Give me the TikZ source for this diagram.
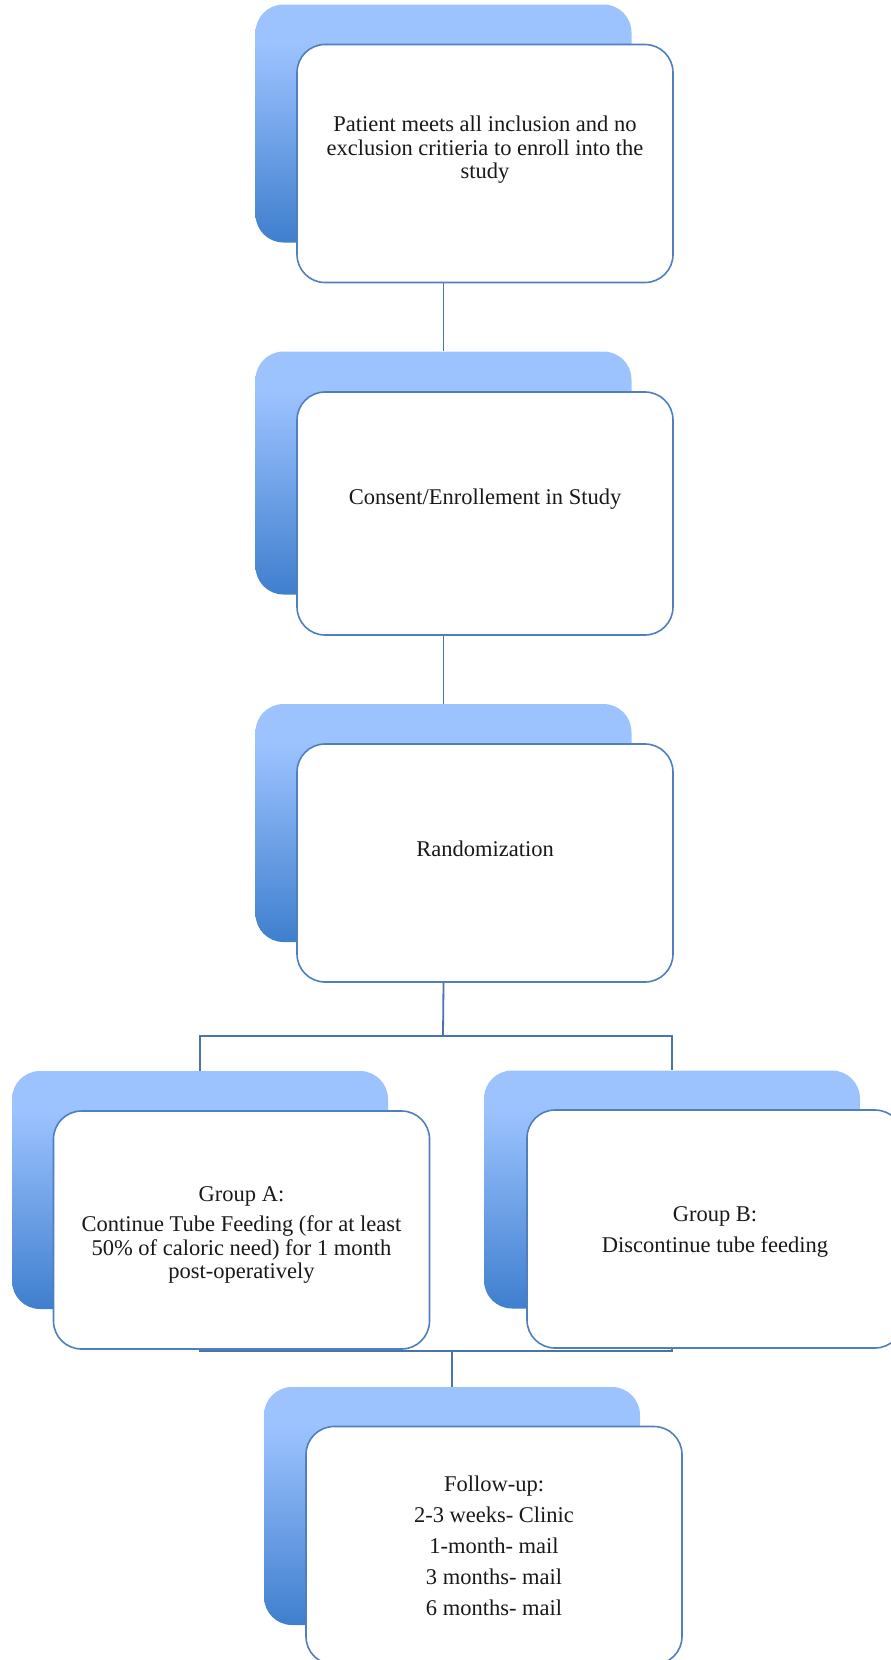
\documentclass[tikz,border=0pt]{standalone}
\usepackage{fontspec}
\setmainfont{Liberation Serif}
\usetikzlibrary{calc}
\definecolor{blight}{HTML}{9DC3FF}
\definecolor{bdark}{HTML}{3F7FCE}
\definecolor{bline}{HTML}{4F7FBF}
\definecolor{cline}{HTML}{4A74A8}
\pgfdeclareverticalshading{backsh}{100bp}{color(0bp)=(bdark); color(25bp)=(bdark); color(67bp)=(blight); color(100bp)=(blight)}
\pgfdeclarelayer{bg}
\pgfsetlayers{bg,main}
\begin{document}
\begin{tikzpicture}[x=1pt,y=-1pt,
  backbox/.style={rectangle, rounded corners=28pt, minimum width=376pt, minimum height=238pt, inner sep=0pt, shading=backsh},
  frontbox/.style={rectangle, rounded corners=28pt, draw=bline, line width=1.6pt, fill=white, minimum width=376pt, minimum height=238pt, inner sep=0pt},
  txt/.style={align=center, inner sep=0pt, font=\fontsize{22.5}{23.5}\selectfont, text=black!90},
  conn/.style={draw=cline, line width=1.8pt}]
\useasboundingbox (0,0) rectangle (891,1660);
\clip (0,0) rectangle (891,1660);
% box 1
\node[backbox] (b1b) at (443.5,123.5) {};
\node[frontbox] (b1f) at (485,163.5) {};
\node[txt] (t1) at (485,150) {Patient meets all inclusion and no\\exclusion critieria to enroll into the\\study};
% box 2
\node[backbox, minimum height=243pt] (b2b) at (443.5,473) {};
\node[frontbox, minimum height=243pt] (b2f) at (485,513.5) {};
\node[txt] (t2) at (485,499) {Consent/Enrollement in Study};
% box 3
\node[backbox] (b3b) at (443.5,823) {};
\node[frontbox] (b3f) at (485,863) {};
\node[txt] (t3) at (485,849) {Randomization};
% group A
\node[backbox] (gab) at (200,1190) {};
\node[frontbox] (gaf) at (241.5,1230) {};
\node[txt] (tA) at (241.5,1235) {Group A:\\[7pt]Continue Tube Feeding (for at least\\50\% of caloric need) for 1 month\\post-operatively};
% group B
\node[backbox] (gbb) at (672,1189.5) {};
\node[frontbox] (gbf) at (715,1229) {};
\node[txt] (tB) at (715,1232) {Group B:\\[7pt]Discontinue tube feeding};
% follow-up
\node[backbox] (fub) at (452,1506) {};
\node[frontbox] (fuf) at (494,1545.5) {};
\node[txt, font=\fontsize{22.5}{31}\selectfont] (tF) at (494,1546) {Follow-up:\\2-3 weeks- Clinic\\1-month- mail\\3 months- mail\\6 months- mail};
\coordinate (split) at (443,1036);
\coordinate (merge) at (452,1351);
\begin{pgfonlayer}{bg}
\draw[conn] (b1b.center |- b1f.south) -- (b2b.north);
\draw[conn] (b2b.center |- b2f.south) -- (b3b.north);
\draw[conn] (b3b.center |- b3f.south) -- (split);
\draw[conn] (gab.north) |- (split) -| (gbb.north);
\draw[conn] (gab.south) |- (merge) -| (gbb.south);
\draw[conn] (merge) -- (fub.north);
\end{pgfonlayer}
\end{tikzpicture}
\end{document}
